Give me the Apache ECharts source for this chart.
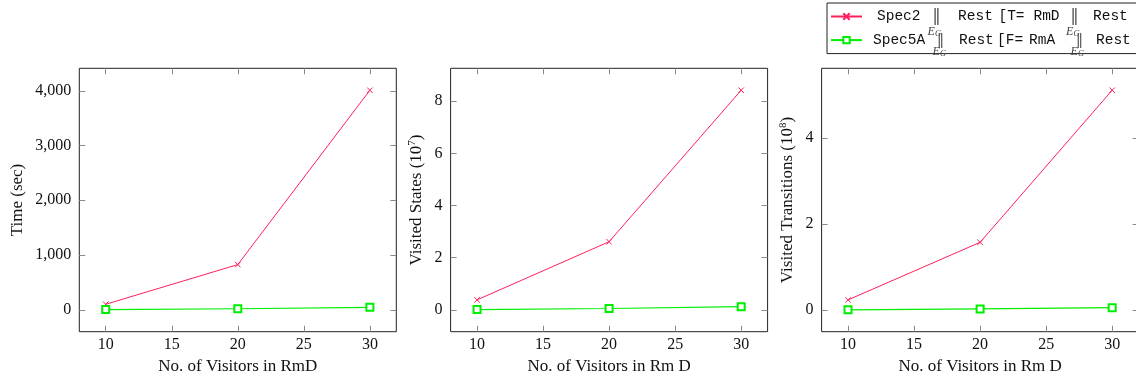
<!DOCTYPE html>
<html><head><meta charset="utf-8">
<script src="https://cdn.jsdelivr.net/npm/echarts@6/dist/echarts.min.js"></script>
<style>html,body{margin:0;padding:0;background:#fff}#c{width:1136px;height:379px}</style>
</head><body><div id="c"></div>
<script>
const visitors = [10, 20, 30];
const xTicks = [10, 15, 20, 25, 30];
const timeSpec2 = [100, 825, 4010];
const timeSpec5A = [3, 18, 45];
const statesSpec2 = [0.38, 2.61, 8.42];
const statesSpec5A = [0.01, 0.05, 0.12];
const transSpec2 = [0.23, 1.57, 5.11];
const transSpec5A = [0.00, 0.02, 0.05];
const timeTicks = [0, 1000, 2000, 3000, 4000];
const statesTicks = [0, 2, 4, 6, 8];
const transTicks = [0, 2, 4];
const seriesNames = ['Spec2 \u2016 Rest [T= RmD \u2016 Rest', 'Spec5A \u2016 Rest [F= RmA \u2016 Rest'];
const xTitles = ['No. of Visitors in RmD', 'No. of Visitors in Rm D', 'No. of Visitors in Rm D'];
const yTitles = ['Time (sec)', 'Visited States (10{s|7})', 'Visited Transitions (10{s|8})'];

const SERIF = '"Liberation Serif", "DejaVu Serif", serif';
const MONO = '"Liberation Mono", "DejaVu Sans Mono", monospace';
const BARFONT = '"DejaVu Serif", serif';
const RED = '#ff1f5a';
const GREEN = '#00ee00';

const panels = [
  {left: 79.3, yMin: -401, yMax: 4411, ticks: timeTicks, s2: timeSpec2, s5: timeSpec5A, gap: 52},
  {left: 450.6, yMin: -0.84, yMax: 9.26, ticks: statesTicks, s2: statesSpec2, s5: statesSpec5A, gap: 24},
  {left: 821.6, yMin: -0.51, yMax: 5.62, ticks: transTicks, s2: transSpec2, s5: transSpec5A, gap: 24}
];

const grids = [], xAxes = [], yAxes = [], series = [];
const tickStyle = {color: '#8a8a8a', width: 1};
panels.forEach((p, g) => {
  grids.push({left: p.left, top: 68.3, width: 317, height: 263.4, show: true,
    borderColor: '#222', borderWidth: 1, backgroundColor: 'transparent', outerBoundsMode: 'none', containLabel: false});
  ['bottom', 'top'].forEach((pos, k) => {
    xAxes.push({type: 'value', gridIndex: g, position: pos, min: 8, max: 32,
      axisLine: {show: false, onZero: false}, splitLine: {show: false},
      axisTick: {show: true, inside: true, length: 6, customValues: xTicks, lineStyle: tickStyle},
      axisLabel: {show: k === 0, customValues: xTicks, fontFamily: SERIF, fontSize: 16, color: '#111', margin: 5},
      name: k === 0 ? xTitles[g] : '', nameLocation: 'middle', nameGap: 25,
      nameTextStyle: {fontFamily: SERIF, fontSize: 17, color: '#111'}});
  });
  ['left', 'right'].forEach((pos, k) => {
    yAxes.push({type: 'value', gridIndex: g, position: pos, min: p.yMin, max: p.yMax,
      axisLine: {show: false, onZero: false}, splitLine: {show: false},
      axisTick: {show: true, inside: true, length: 6, customValues: p.ticks, lineStyle: tickStyle},
      axisLabel: {show: k === 0, customValues: p.ticks, fontFamily: SERIF, fontSize: 16, color: '#111', margin: 8,
        formatter: v => v.toLocaleString('en-US')},
      name: k === 0 ? yTitles[g] : '', nameLocation: 'middle', nameGap: p.gap,
      nameTextStyle: {fontFamily: SERIF, fontSize: 17, color: '#111', lineHeight: 20,
        rich: {s: {fontFamily: SERIF, fontSize: 11, color: '#111', verticalAlign: 'top', lineHeight: 11}}}});
  });
  series.push({name: seriesNames[0], type: 'line', xAxisIndex: 2 * g, yAxisIndex: 2 * g,
    data: visitors.map((x, i) => [x, p.s2[i]]),
    symbol: 'path://M0,0L10,10M10,0L0,10', symbolSize: 5.5,
    lineStyle: {color: RED, width: 1}, itemStyle: {color: RED, borderColor: RED, borderWidth: 1}});
  series.push({name: seriesNames[1], type: 'line', xAxisIndex: 2 * g, yAxisIndex: 2 * g,
    data: visitors.map((x, i) => [x, p.s5[i]]),
    symbol: 'emptyRect', symbolSize: 7,
    lineStyle: {color: GREEN, width: 1.2}, itemStyle: {color: GREEN, borderColor: GREEN, borderWidth: 1}});
});

const m = {fontFamily: MONO, fontSize: 14.5, color: '#111', lineHeight: 14};
const legendRich = {
  m: m,
  m50: Object.assign({width: 50}, m), m53: Object.assign({width: 53}, m),
  m39: Object.assign({width: 39}, m), m38: Object.assign({width: 38}, m),
  m33: Object.assign({width: 33}, m), m32: Object.assign({width: 32}, m),
  m37: Object.assign({width: 37}, m),
  bar: {fontFamily: BARFONT, fontSize: 17, color: '#555', width: 19, align: 'center', lineHeight: 14},
  p10: {width: 10, fontSize: 10, lineHeight: 14}, p9: {width: 9, fontSize: 10, lineHeight: 14},
  p6: {width: 6, fontSize: 10, lineHeight: 14}, w33: {width: 33, fontSize: 10, lineHeight: 14},
  w29: {width: 29, fontSize: 10, lineHeight: 14}
};
function legendFormatter(name) {
  if (name === seriesNames[0]) {
    return '{p10| }{m50|Spec2}{bar|\u2016}{p10| }{m39|Rest}{m33|[T=}{m37|RmD}{bar|\u2016}{p9| }{m|Rest}';
  }
  return '{p6| }{m53|Spec5A}{w33| }{m38|Rest}{m32|[F=}{m38|RmA}{w29| }{m|Rest}';
}

function eg(x, y) {
  return [
    {type: 'text', x: x, y: y, z: 100, style: {text: 'E', fontFamily: SERIF, fontStyle: 'italic', fontSize: 12, fill: '#444', verticalAlign: 'middle'}},
    {type: 'text', x: x + 7.5, y: y + 2.5, z: 100, style: {text: 'G', fontFamily: SERIF, fontStyle: 'italic', fontSize: 8.5, fill: '#444', verticalAlign: 'middle'}}
  ];
}
function bar2(cx, cy) {
  return {type: 'text', x: cx, y: cy, z: 100, style: {text: '\u2016', fontFamily: BARFONT, fontSize: 15, fill: '#555', align: 'center', verticalAlign: 'middle'}};
}
const graphics = [].concat(
  eg(927.5, 31.5), [bar2(940.5, 40)], eg(932.5, 51.5),
  eg(1066, 31.5), [bar2(1079.5, 40)], eg(1070.5, 51.5)
);

const chart = echarts.init(document.getElementById('c'), null, {renderer: 'canvas'});
chart.setOption({
  animation: false,
  backgroundColor: '#fff',
  grid: grids, xAxis: xAxes, yAxis: yAxes, series: series,
  legend: {
    data: seriesNames, orient: 'vertical', left: 827, top: 3,
    padding: [5, 30, 6, 3], itemGap: 7.6, itemWidth: 31, itemHeight: 8,
    backgroundColor: '#fff', borderColor: '#222', borderWidth: 1,
    formatter: legendFormatter,
    textStyle: {fontFamily: MONO, fontSize: 14.5, color: '#111', lineHeight: 14, rich: legendRich}
  },
  graphic: graphics
});
</script>
</body></html>
